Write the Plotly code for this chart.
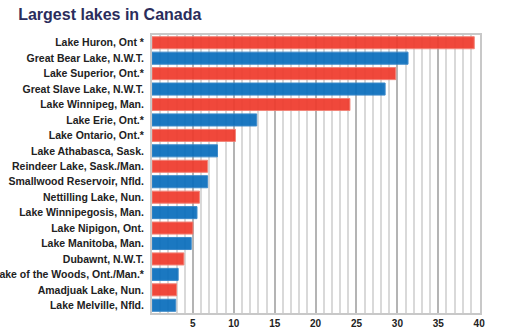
import plotly.graph_objects as go

lakes = [
    "Lake Huron, Ont *", "Great Bear Lake, N.W.T.", "Lake Superior, Ont.*",
    "Great Slave Lake, N.W.T.", "Lake Winnipeg, Man.", "Lake Erie, Ont.*",
    "Lake Ontario, Ont.*", "Lake Athabasca, Sask.", "Reindeer Lake, Sask./Man.",
    "Smallwood Reservoir, Nfld.", "Nettilling Lake, Nun.", "Lake Winnipegosis, Man.",
    "Lake Nipigon, Ont.", "Lake Manitoba, Man.", "Dubawnt, N.W.T.",
    "Lake of the Woods, Ont./Man.*", "Amadjuak Lake, Nun.", "Lake Melville, Nfld.",
]
areas = [39.4, 31.3, 29.8, 28.5, 24.2, 12.8, 10.2, 8.0, 6.8, 6.8,
         5.8, 5.5, 5.0, 4.8, 3.9, 3.2, 3.0, 2.9]
tick_vals = [5, 10, 15, 20, 25, 30, 35, 40]

RED = "#EF3B2D"
BLUE = "#0A6EBD"
colors = [RED if i % 2 == 0 else BLUE for i in range(len(lakes))]
lines = ["#F27A6E" if i % 2 == 0 else "#2F82C6" for i in range(len(lakes))]

fig = go.Figure(go.Bar(
    x=areas, y=lakes, orientation="h",
    marker=dict(color=colors, line=dict(color=lines, width=1)),
    opacity=0.93,
))

fig.update_layout(
    width=520, height=332,
    margin=dict(l=152, r=40, t=35, b=19),
    paper_bgcolor="white", plot_bgcolor="white",
    bargap=0.22,
    showlegend=False,
    title=dict(text="<b>Largest lakes in Canada</b>", x=0.035, xanchor="left",
               y=0.975, yanchor="top",
               font=dict(family="Liberation Sans, Arial", size=16, color="#2B2D5C")),
    font=dict(family="Liberation Sans, Arial", color="#222222"),
)
fig.update_xaxes(
    range=[0, 40.1], tickvals=tick_vals,
    ticktext=[f"<b>{v}</b>" for v in tick_vals],
    ticks="", automargin=False, ticklabelstandoff=0,
    tickfont=dict(size=10, color="#222222", family="Liberation Sans, Arial"),
    showgrid=True, gridcolor="#B4B4B4", gridwidth=2,
    minor=dict(dtick=1, showgrid=True, gridcolor="#D9D9D9", gridwidth=1.5),
    showline=True, linecolor="#C8C8C8", linewidth=2, mirror=True,
    zeroline=False, fixedrange=True,
)
fig.update_yaxes(
    autorange="reversed", ticks="", ticklabelstandoff=4, automargin=False,
    tickfont=dict(size=10.5, color="#222222", family="Liberation Sans, Arial"),
    showgrid=False, showline=True, linecolor="#C8C8C8", linewidth=2, mirror=True,
    tickprefix="<b>", ticksuffix="</b>",
)

fig.write_html("out.html")
